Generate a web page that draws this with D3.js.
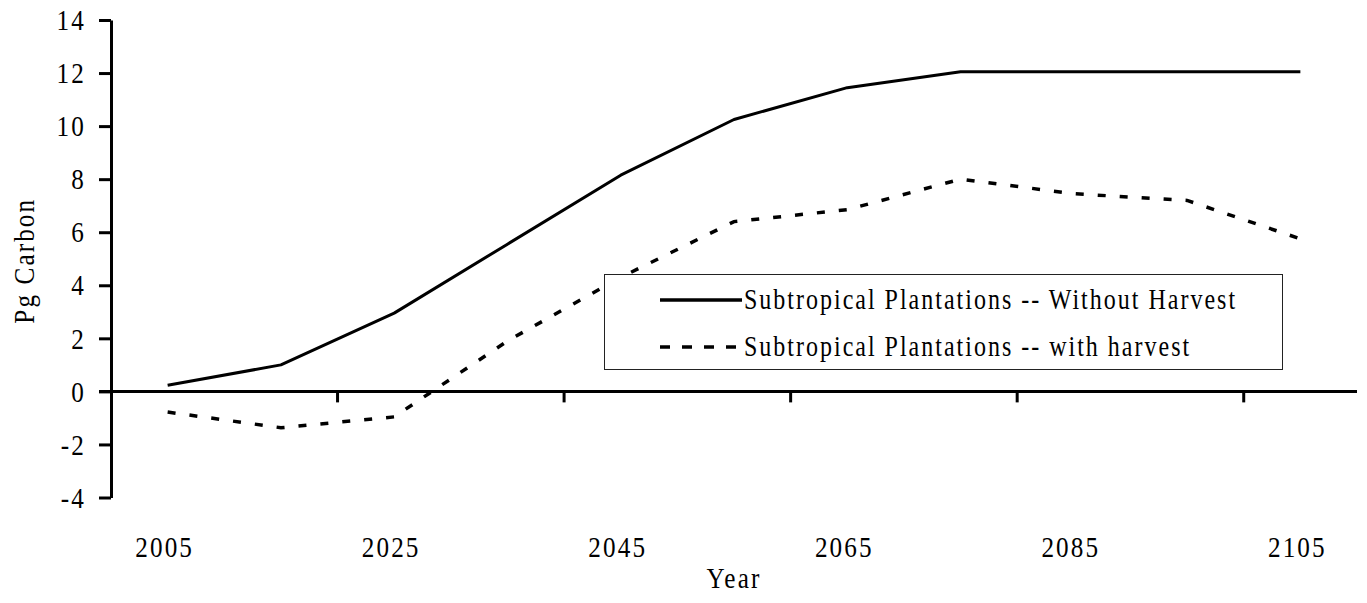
<!DOCTYPE html>
<html>
<head>
<meta charset="utf-8">
<script src="https://cdn.jsdelivr.net/npm/d3@7"></script>
<style>
  body { margin: 0; background: #fff; }
  text { font-family: "Liberation Serif", "Times New Roman", serif; font-size: 30px; fill: #000; letter-spacing: 2.5px; }
</style>
</head>
<body>
<div id="chart-container"></div>
<script>
// Data
const years = [2005, 2015, 2025, 2035, 2045, 2055, 2065, 2075, 2085, 2095, 2105];
const withoutHarvest = [0.23, 1.0, 2.95, 5.55, 8.15, 10.25, 11.45, 12.05, 12.05, 12.05, 12.05];
const withHarvest = [-0.78, -1.37, -0.96, 1.9, 4.3, 6.4, 6.85, 8.0, 7.45, 7.2, 5.75];
const yTicks = [-4, -2, 0, 2, 4, 6, 8, 10, 12, 14];
const xLabels = [2005, 2025, 2045, 2065, 2085, 2105];
const seriesNames = ["Subtropical Plantations -- Without Harvest", "Subtropical Plantations -- with harvest"];

const W = 1367, H = 603;
const plot = { left: 111, right: 1357, top: 20, bottom: 497.5 };
// the original text is horizontally condensed
const squeeze = "scale(0.84,1)";
const squeezeLegend = "scale(0.8,1)";

const svg = d3.select("#chart-container")
  .append("svg")
  .attr("width", W)
  .attr("height", H);

// Scales
const x = d3.scaleBand()
  .domain(years)
  .range([plot.left, plot.right])
  .padding(0);
const y = d3.scaleLinear()
  .domain([-4, 14])
  .range([plot.bottom, plot.top]);
const cx = d => x(d) + x.bandwidth() / 2;

// Y axis (ticks outside, labels drawn separately)
svg.append("g")
  .attr("transform", `translate(${plot.left},0)`)
  .call(d3.axisLeft(y).tickValues(yTicks).tickSize(12).tickSizeOuter(0).tickFormat(""))
  .call(g => g.selectAll("path, line").attr("stroke", "#000").attr("stroke-width", 3));

svg.selectAll(".ylab")
  .data(yTicks)
  .join("text")
  .attr("class", "ylab")
  .attr("text-anchor", "end")
  .attr("dy", "0.34em")
  .attr("transform", d => `translate(86,${y(d)}) ${squeeze}`)
  .text(d => d < 0 ? "-" + Math.abs(d) : d);

// X axis at zero, ticks between every second category
svg.append("line")
  .attr("x1", plot.left - 12)
  .attr("x2", plot.right)
  .attr("y1", y(0))
  .attr("y2", y(0))
  .attr("stroke", "#000")
  .attr("stroke-width", 3);

svg.selectAll(".xtick")
  .data(years.filter((d, i) => i > 0 && i % 2 === 0))
  .join("line")
  .attr("class", "xtick")
  .attr("x1", d => x(d))
  .attr("x2", d => x(d))
  .attr("y1", y(0))
  .attr("y2", y(0) + 11)
  .attr("stroke", "#000")
  .attr("stroke-width", 3);

// Category labels sit low, below the plot
svg.selectAll(".xlab")
  .data(xLabels)
  .join("text")
  .attr("class", "xlab")
  .attr("text-anchor", "middle")
  .attr("transform", d => `translate(${cx(d) - 3},557) ${squeeze}`)
  .text(d => d);

// Axis titles
svg.append("text")
  .attr("text-anchor", "middle")
  .attr("transform", `translate(${(plot.left + plot.right) / 2},588) ${squeeze}`)
  .text("Year");

svg.append("text")
  .attr("text-anchor", "middle")
  .attr("transform", `translate(34,${(plot.top + plot.bottom) / 2 + 2}) rotate(-90) ${squeeze}`)
  .text("Pg Carbon");

// Lines
const line = d3.line()
  .x((d, i) => cx(years[i]))
  .y(d => y(d));

svg.append("path")
  .datum(withoutHarvest)
  .attr("fill", "none")
  .attr("stroke", "#000")
  .attr("stroke-width", 3)
  .attr("stroke-linejoin", "round")
  .attr("d", line);

svg.append("path")
  .datum(withHarvest)
  .attr("fill", "none")
  .attr("stroke", "#000")
  .attr("stroke-width", 3.5)
  .attr("stroke-dasharray", "8,14")
  .attr("d", line);

// Legend
const legend = svg.append("g");
legend.append("rect")
  .attr("x", 604.5)
  .attr("y", 274.5)
  .attr("width", 678)
  .attr("height", 95)
  .attr("fill", "#fff")
  .attr("stroke", "#222")
  .attr("stroke-width", 1);

const rows = [
  { name: seriesNames[0], dash: null, ly: 300 },
  { name: seriesNames[1], dash: "10,12", ly: 347 }
];
rows.forEach(r => {
  legend.append("line")
    .attr("x1", 660)
    .attr("x2", 742)
    .attr("y1", r.ly)
    .attr("y2", r.ly)
    .attr("stroke", "#000")
    .attr("stroke-width", 3.5)
    .attr("stroke-dasharray", r.dash);
  legend.append("text")
    .attr("transform", `translate(744,${r.ly + 9}) ${squeezeLegend}`)
    .text(r.name);
});
</script>
</body>
</html>
